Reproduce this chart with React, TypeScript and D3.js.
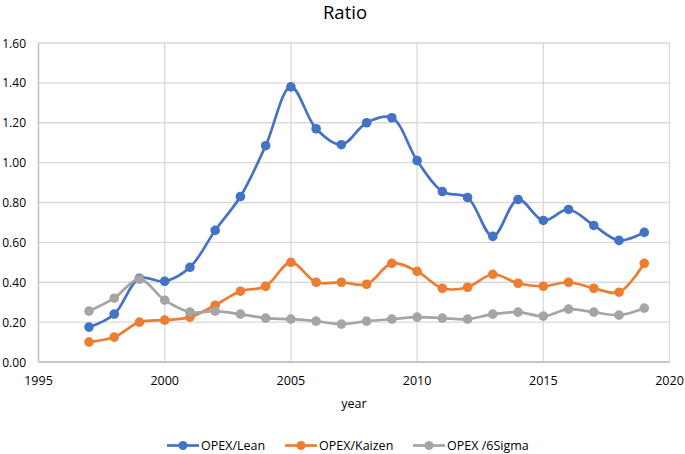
import React from "react";
import * as d3 from "d3";

const years = [1997,1998,1999,2000,2001,2002,2003,2004,2005,2006,2007,2008,2009,2010,2011,2012,2013,2014,2015,2016,2017,2018,2019];
const lean = [0.175,0.24,0.42,0.405,0.475,0.66,0.83,1.085,1.38,1.17,1.09,1.2,1.225,1.01,0.855,0.825,0.63,0.815,0.71,0.765,0.685,0.61,0.65];
const kaizen = [0.10,0.125,0.20,0.21,0.225,0.285,0.355,0.38,0.50,0.40,0.40,0.39,0.495,0.455,0.37,0.375,0.44,0.395,0.38,0.40,0.37,0.35,0.495];
const sigma = [0.255,0.32,0.415,0.31,0.25,0.255,0.24,0.22,0.215,0.205,0.19,0.205,0.215,0.225,0.22,0.215,0.24,0.25,0.23,0.265,0.25,0.235,0.27];
const seriesNames = ["OPEX/Lean", "OPEX/Kaizen", "OPEX /6Sigma"];
const colors = ["#4472C4", "#ED7D31", "#A5A5A5"];
const xTicks = [1995, 2000, 2005, 2010, 2015, 2020];
const yTicks = [0, 0.2, 0.4, 0.6, 0.8, 1.0, 1.2, 1.4, 1.6];

export default function App() {
  const W = 685, H = 454;
  const x = d3.scaleLinear().domain([1995, 2020]).range([38.5, 669.5]);
  const y = d3.scaleLinear().domain([0, 1.6]).range([362, 43]);
  const font = "'Open Sans', 'Liberation Sans', sans-serif";
  const all = [lean, kaizen, sigma];
  const line = d3.line<number>()
    .x((_, i) => x(years[i]))
    .y((d) => y(d))
    .curve(d3.curveCatmullRom.alpha(0.5));
  const legendX = [167, 285, 413];
  return (
    <svg width={W} height={H} style={{ position: "absolute", left: 0, top: 0, background: "#fff" }}>
      <rect width={W} height={H} fill="#fff" />
      <text x={345} y={19} textAnchor="middle" fontFamily={font} fontSize={18.5} fill="#000">Ratio</text>
      {yTicks.map((t) => (
        <line key={"gy" + t} x1={x(1995)} x2={x(2020)} y1={y(t)} y2={y(t)} stroke="#d9d9d9" strokeWidth={1.3} />
      ))}
      {xTicks.map((t) => (
        <line key={"gx" + t} x1={x(t)} x2={x(t)} y1={y(0)} y2={y(1.6)} stroke="#d9d9d9" strokeWidth={1.3} />
      ))}
      <line x1={x(1995)} x2={x(2020)} y1={y(0)} y2={y(0)} stroke="#bfbfbf" strokeWidth={1.3} />
      <line x1={x(1995)} x2={x(1995)} y1={y(0)} y2={y(1.6)} stroke="#bfbfbf" strokeWidth={1.3} />
      {yTicks.map((t) => (
        <text key={"ty" + t} x={26} y={y(t) + 4.5} textAnchor="end" fontFamily={font} fontSize={12} fill="#000">{t.toFixed(2)}</text>
      ))}
      {xTicks.map((t) => (
        <text key={"tx" + t} x={x(t)} y={385} textAnchor="middle" fontFamily={font} fontSize={12.5} fill="#000">{t}</text>
      ))}
      <text x={354} y={408} textAnchor="middle" fontFamily={font} fontSize={12.5} fill="#000">year</text>
      {all.map((s, k) => (
        <g key={"s" + k}>
          <path d={line(s) || ""} fill="none" stroke={colors[k]} strokeWidth={2.7} />
          {s.map((v, i) => (
            <circle key={i} cx={x(years[i])} cy={y(v)} r={4.8} fill={colors[k]} />
          ))}
        </g>
      ))}
      {seriesNames.map((n, k) => (
        <g key={"l" + k}>
          <line x1={legendX[k]} x2={legendX[k] + 32} y1={445.5} y2={445.5} stroke={colors[k]} strokeWidth={2.7} />
          <circle cx={legendX[k] + 16} cy={445.5} r={4.5} fill={colors[k]} />
          <text x={legendX[k] + 34} y={450} fontFamily={font} fontSize={12.5} fill="#000">{n}</text>
        </g>
      ))}
    </svg>
  );
}
